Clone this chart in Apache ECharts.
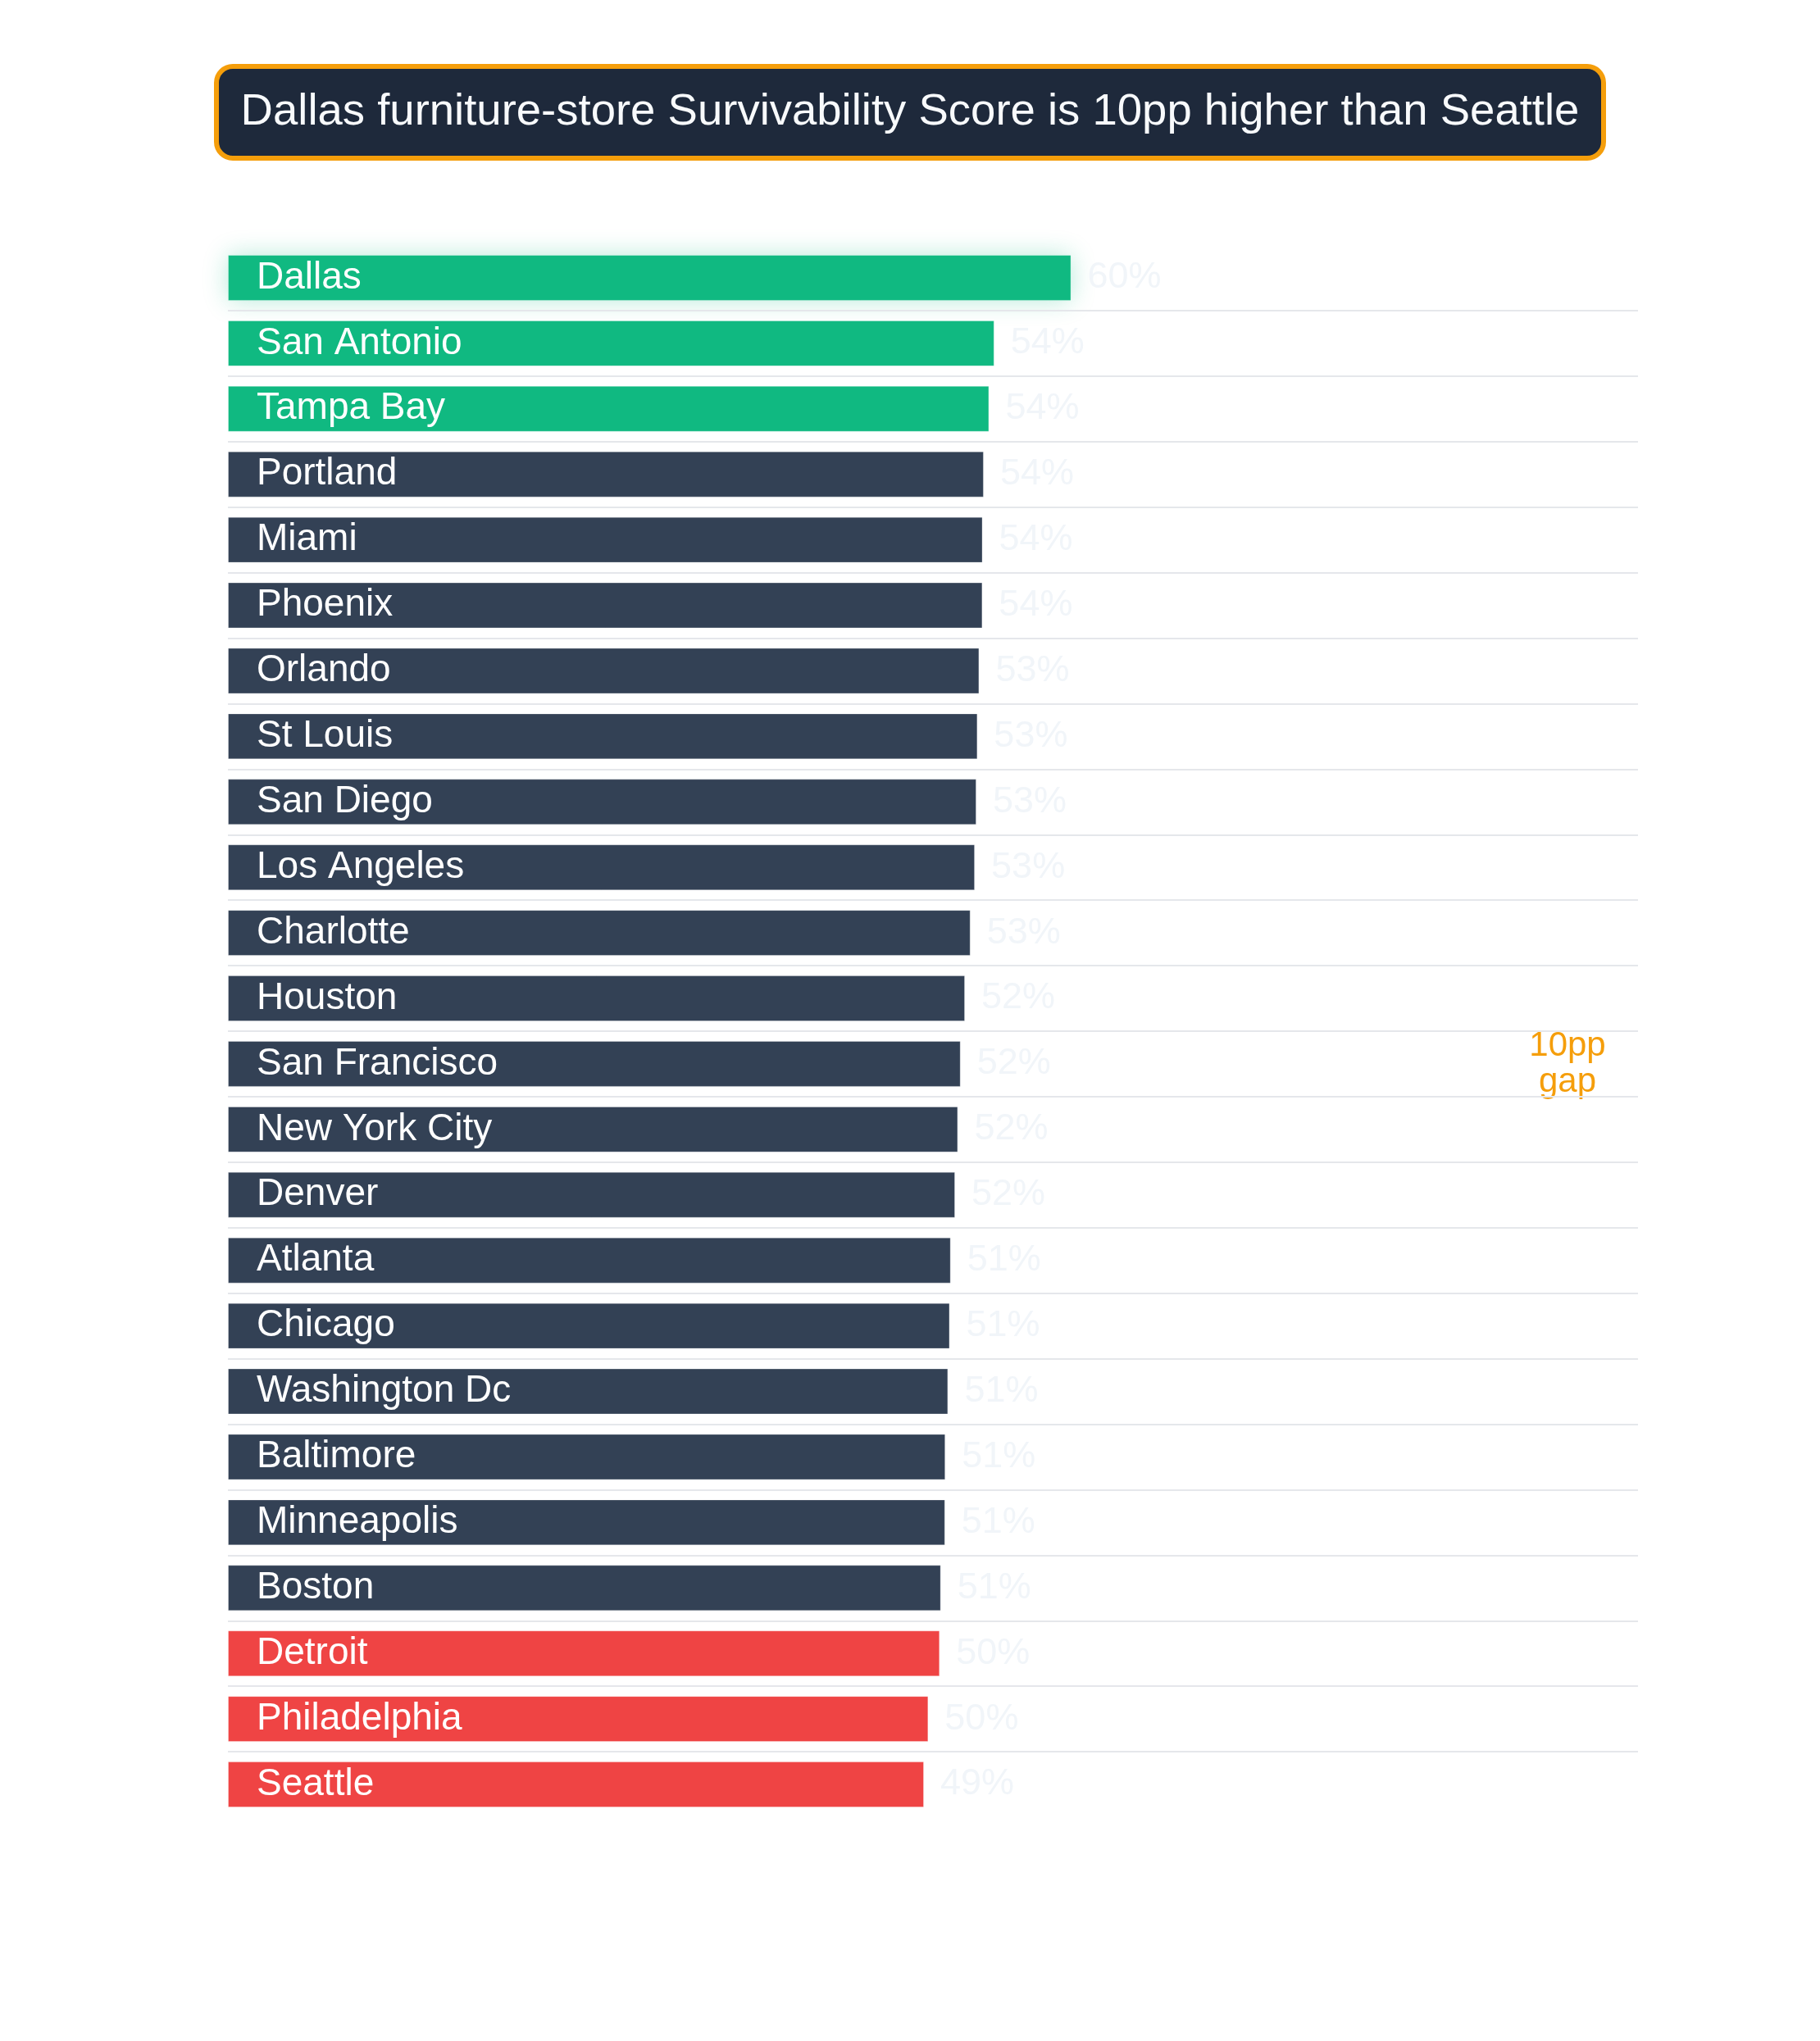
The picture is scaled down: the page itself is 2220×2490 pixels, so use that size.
<!DOCTYPE html>
<html>
<head>
<meta charset="utf-8">
<title>Survivability Score</title>
<script src="https://cdn.jsdelivr.net/npm/echarts@6/dist/echarts.min.js"></script>
<style>
  html, body {margin:0;padding:0;background:#fff;}
  #chart {width:2220px;height:2490px;}
</style>
</head>
<body>
<div id="chart"></div>
<script>
// cities, ranked top to bottom
var cities = ['Dallas', 'San Antonio', 'Tampa Bay', 'Portland', 'Miami', 'Phoenix', 'Orlando', 'St Louis',
  'San Diego', 'Los Angeles', 'Charlotte', 'Houston', 'San Francisco', 'New York City', 'Denver', 'Atlanta',
  'Chicago', 'Washington Dc', 'Baltimore', 'Minneapolis', 'Boston', 'Detroit', 'Philadelphia', 'Seattle'];
// survivability score, %
var scores = [59.8, 54.35, 53.98, 53.6, 53.52, 53.51, 53.28, 53.16,
  53.08, 52.97, 52.66, 52.27, 51.96, 51.77, 51.57, 51.26,
  51.19, 51.07, 50.88, 50.86, 50.56, 50.48, 49.67, 49.36];
var gapText = '10pp\ngap';
var gapAt = [95, 'San Francisco'];

var GREEN = '#10b981', SLATE = '#334155', RED = '#ef4444', AMBER = '#f59e0b';
var FONT = '"Liberation Sans", Arial, Helvetica, sans-serif';

var chart = echarts.init(document.getElementById('chart'));

var barData = scores.map(function (v, i) {
  var c = i < 3 ? GREEN : (i >= scores.length - 3 ? RED : SLATE);
  var item = {value: v, itemStyle: {color: c}};
  if (i === 0) {
    // leader gets a soft glow
    item.itemStyle.shadowBlur = 30;
    item.itemStyle.shadowColor = 'rgba(16,185,129,0.3)';
  }
  return item;
});

var option = {
  backgroundColor: '#ffffff',
  textStyle: {fontFamily: FONT},
  title: {
    text: 'Dallas furniture-store Survivability Score is 10pp higher than Seattle',
    left: 'center',
    top: 81,
    padding: [27, 30],
    backgroundColor: '#1e293b',
    borderColor: AMBER,
    borderWidth: 6,
    borderRadius: 20,
    textStyle: {color: '#f8fafc', fontSize: 54.5, fontWeight: 'normal', fontFamily: FONT, lineHeight: 58}
  },
  grid: {left: 278, right: 222, top: 299, bottom: 273, containLabel: false},
  xAxis: {
    type: 'value',
    min: 0,
    max: 100,
    show: false,
    splitLine: {show: false}
  },
  yAxis: {
    type: 'category',
    data: cities,
    inverse: true,
    z: 10,
    axisLine: {show: false},
    axisTick: {show: false},
    axisLabel: {
      inside: true,
      margin: 35,
      color: '#ffffff',
      fontSize: 46,
      fontFamily: FONT
    },
    splitLine: {
      show: true,
      showMinLine: false,
      showMaxLine: false,
      lineStyle: {color: '#e5e7eb', width: 2}
    }
  },
  series: [{
    type: 'bar',
    data: barData,
    barCategoryGap: '30%',
    itemStyle: {borderColor: 'rgba(255,255,255,0.3)', borderWidth: 1},
    label: {
      show: true,
      position: 'right',
      distance: 20,
      color: '#f1f5f9',
      fontSize: 45,
      fontFamily: FONT,
      formatter: function (p) { return Math.round(p.value) + '%'; }
    },
    markPoint: {
      symbol: 'circle',
      symbolSize: 0,
      silent: true,
      data: [{coord: gapAt, value: gapText}],
      label: {
        show: true,
        position: 'inside',
        formatter: gapText,
        color: AMBER,
        fontSize: 42,
        lineHeight: 44,
        align: 'center',
        fontFamily: FONT
      }
    }
  }]
};

chart.setOption(option);
</script>
</body>
</html>
